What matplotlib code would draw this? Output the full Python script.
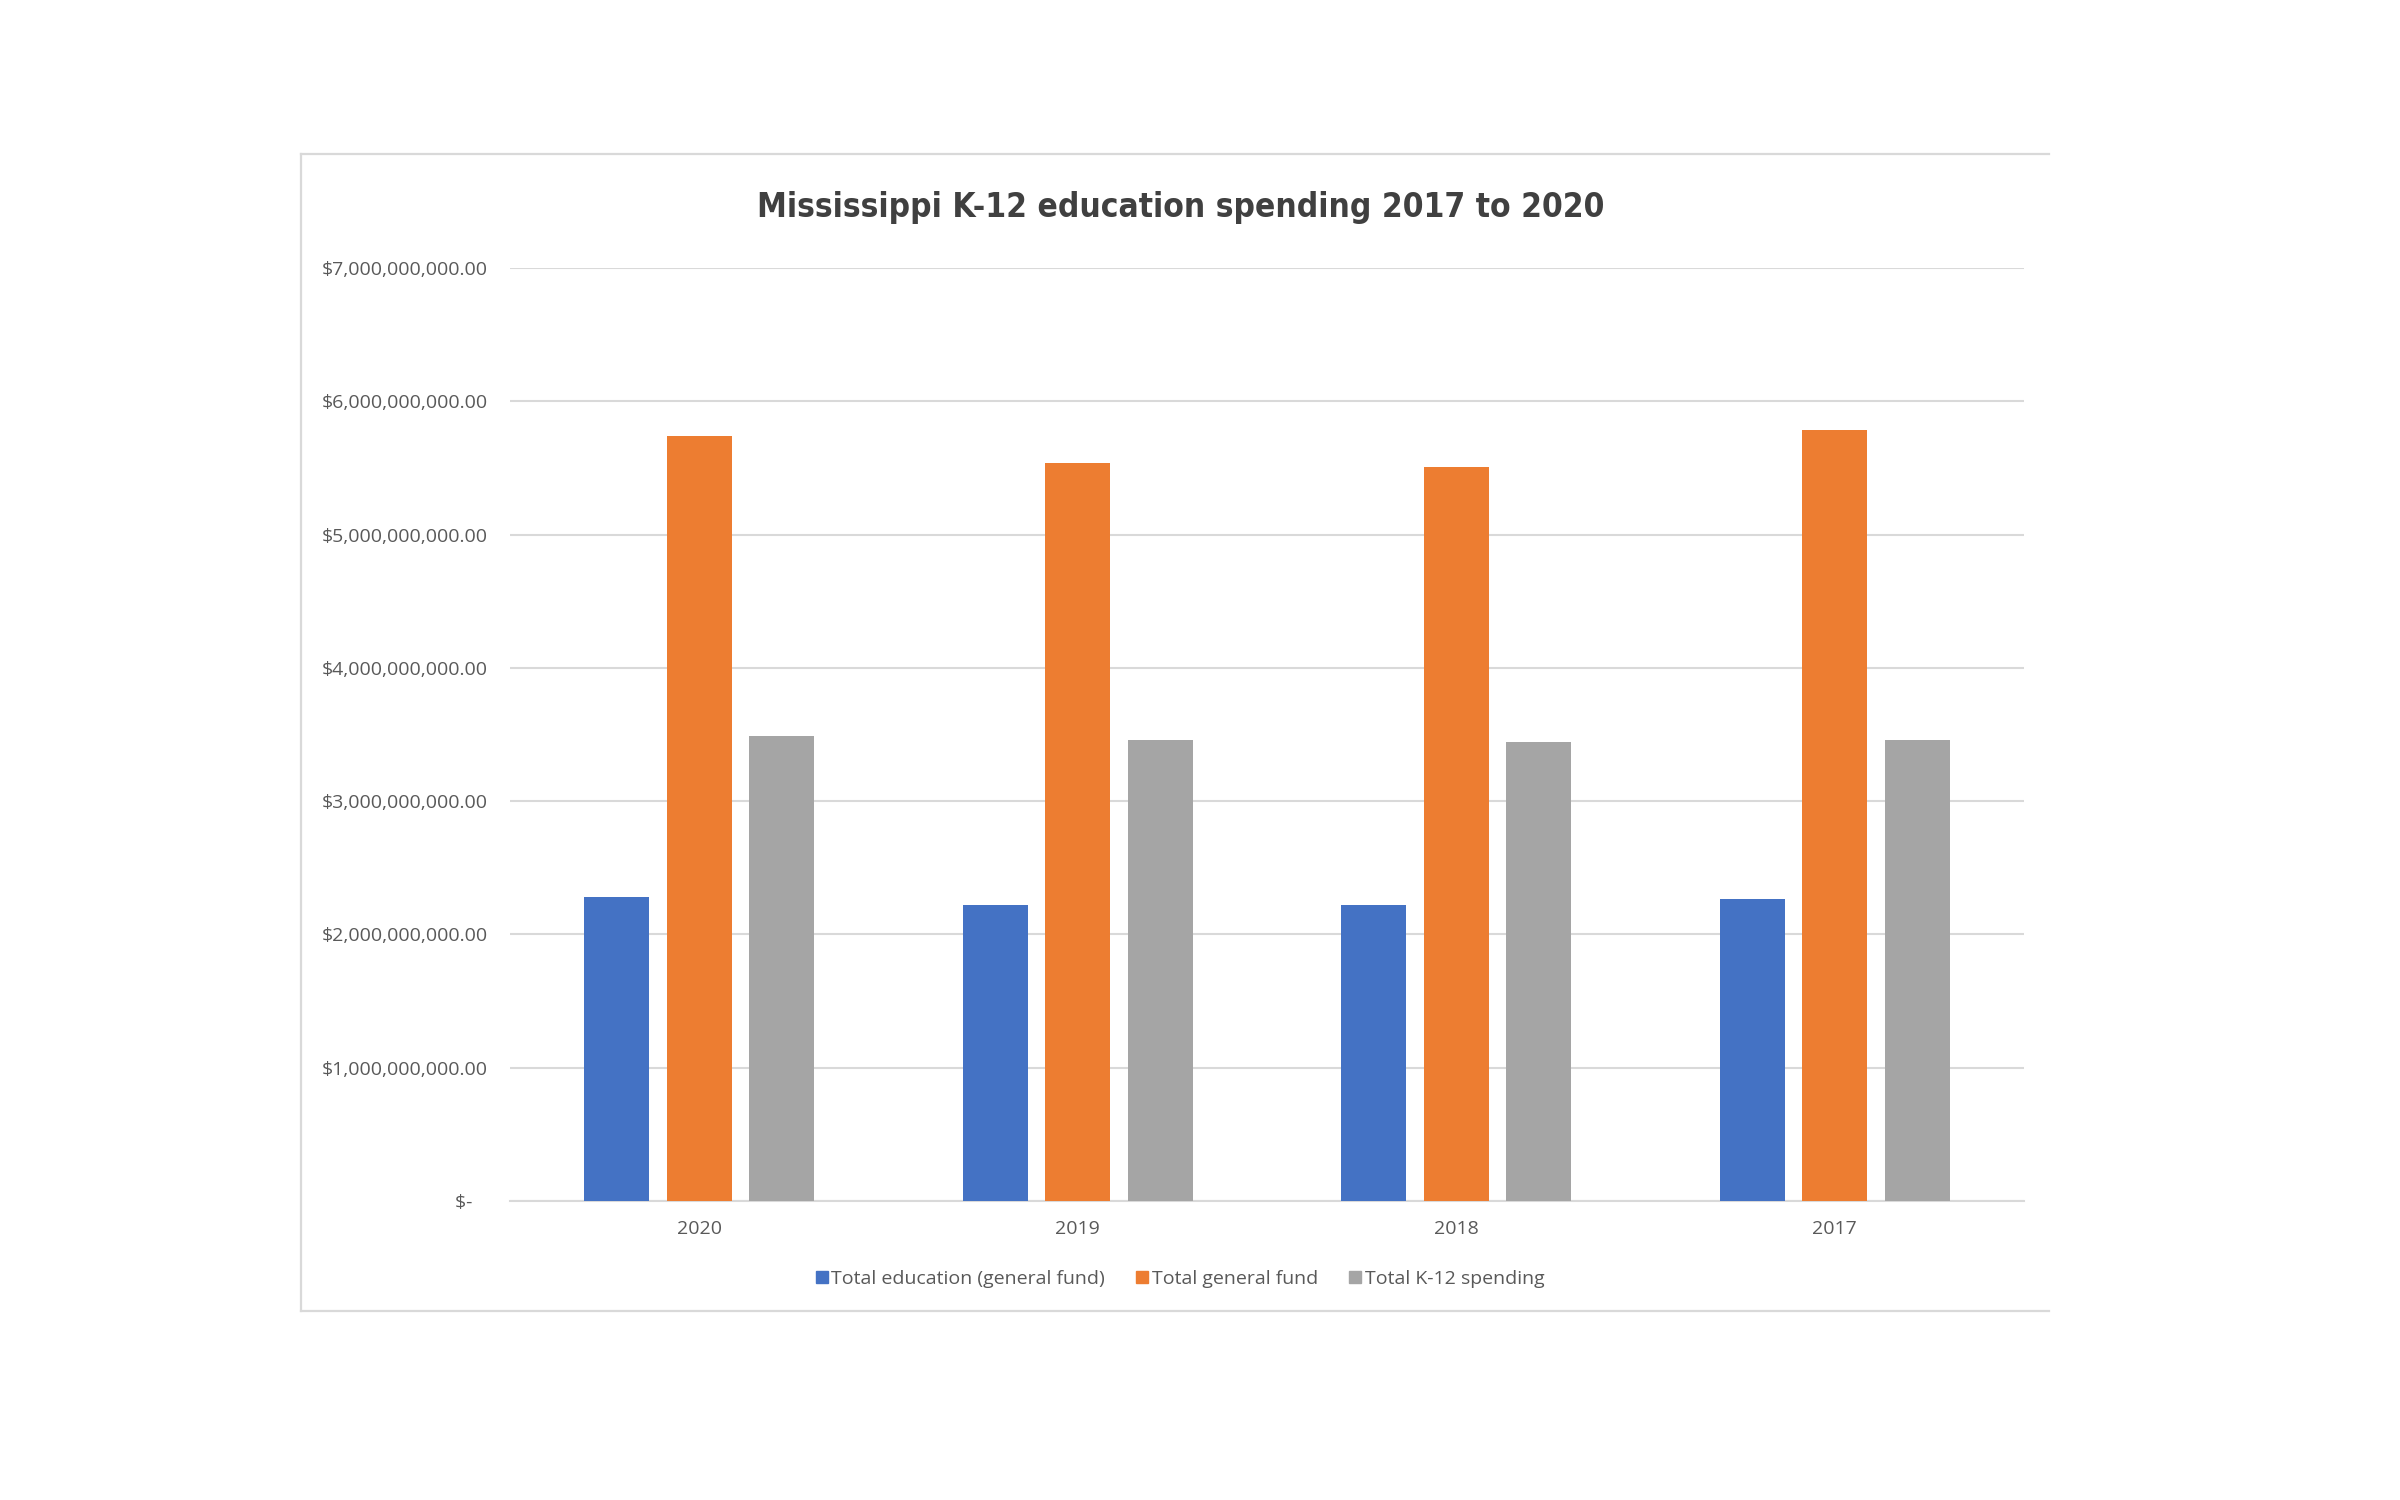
"""
Mississippi K-12 education spending, 2017 to 2020 -- Excel-style clustered bars.
"""
import matplotlib.pyplot as plt
import matplotlib as mpl
from matplotlib import font_manager
from matplotlib.lines import Line2D
from matplotlib.ticker import FuncFormatter
import numpy as np

mpl.rcParams.update({
    "font.family": ["Open Sans", "DejaVu Sans"],
    "font.size": 14,
})

YEARS = ["2020", "2019", "2018", "2017"]
SERIES = ["Total education (general fund)", "Total general fund",
          "Total K-12 spending"]
# values in dollars
EDU_GENERAL = [2.28e9, 2.22e9, 2.22e9, 2.265e9]
GENERAL_FUND = [5.74e9, 5.54e9, 5.51e9, 5.785e9]
K12_SPENDING = [3.49e9, 3.455e9, 3.445e9, 3.455e9]

COLORS = ["#4472C4", "#ED7D31", "#A5A5A5"]
TEXT = "#595959"
GRID = "#D9D9D9"
W, H = 2400, 1500


def condensed_font():
    """Pick a narrow/condensed bold face if one is installed."""
    best = None
    for f in font_manager.fontManager.ttflist:
        name = f.name.lower()
        fname = f.fname.lower()
        narrow = ("narrow" in name or "condensed" in name or
                  "condensed" in fname or "narrow" in fname or
                  f.stretch in ("condensed", "semi-condensed",
                                "extra-condensed", "ultra-condensed"))
        if not narrow:
            continue
        w = f.weight if isinstance(f.weight, int) else 700
        score = abs(w - 700)
        if best is None or score < best[0]:
            best = (score, f.fname)
    return best[1] if best else None


def money(v, _pos):
    if v == 0:
        return "$-   "
    return f"${v:,.2f}"


def fx(px): return px / W
def fy(py): return 1 - py / H


def main():
    fig = plt.figure(figsize=(24, 15), dpi=100)
    # chart-area frame (top, left, bottom edges only, as in the picture)
    for xs, ys in [((301, 2049), (154, 154)),
                   ((301, 301), (154, 1311)),
                   ((301, 2049), (1311, 1311))]:
        fig.add_artist(Line2D([fx(v) for v in xs], [fy(v) for v in ys],
                              transform=fig.transFigure, color=GRID,
                              linewidth=1.6))

    ax = fig.add_axes([fx(510), fy(1201), (2024 - 510) / W, (1201 - 268) / H])

    x = np.arange(len(YEARS))
    w = 0.171
    step = 0.218
    for i, (vals, col) in enumerate(zip([EDU_GENERAL, GENERAL_FUND, K12_SPENDING],
                                        COLORS)):
        ax.bar(x + (i - 1) * step, vals, w, color=col, label=SERIES[i], zorder=3)

    ax.set_xlim(-0.5, len(YEARS) - 0.5)
    ax.set_ylim(0, 7e9)
    ax.set_yticks(np.arange(0, 7.01e9, 1e9))
    ax.yaxis.set_major_formatter(FuncFormatter(money))
    ax.set_xticks(x)
    ax.set_xticklabels(YEARS)

    ax.grid(axis="y", color=GRID, linewidth=1.5, zorder=0)
    for s in ["top", "right", "left"]:
        ax.spines[s].set_visible(False)
    ax.spines["bottom"].set_color(GRID)
    ax.spines["bottom"].set_linewidth(1.5)
    ax.tick_params(axis="both", length=0, colors=TEXT, labelsize=14)
    ax.tick_params(axis="y", pad=16)
    ax.tick_params(axis="x", pad=14)

    fpath = condensed_font()
    if fpath:
        tprops = dict(fontproperties=font_manager.FontProperties(
            fname=fpath, size=24))
    else:
        tprops = dict(fontsize=23, fontweight="bold")
    fig.text(fx(1181), fy(208),
             "Mississippi K-12 education spending 2017 to 2020",
             ha="center", va="center", color="#404040", **tprops)

    handles = [Line2D([], [], marker="s", linestyle="none", markersize=8,
                      color=c) for c in COLORS]
    fig.legend(handles, SERIES, loc="center", ncol=3,
               bbox_to_anchor=(fx(1180), fy(1279)),
               frameon=False, fontsize=14, labelcolor=TEXT,
               handlelength=0.6, handletextpad=0.2, columnspacing=1.6)

    fig.savefig("out.png", dpi=100, facecolor="white")
    plt.close(fig)


if __name__ == "__main__":
    main()
